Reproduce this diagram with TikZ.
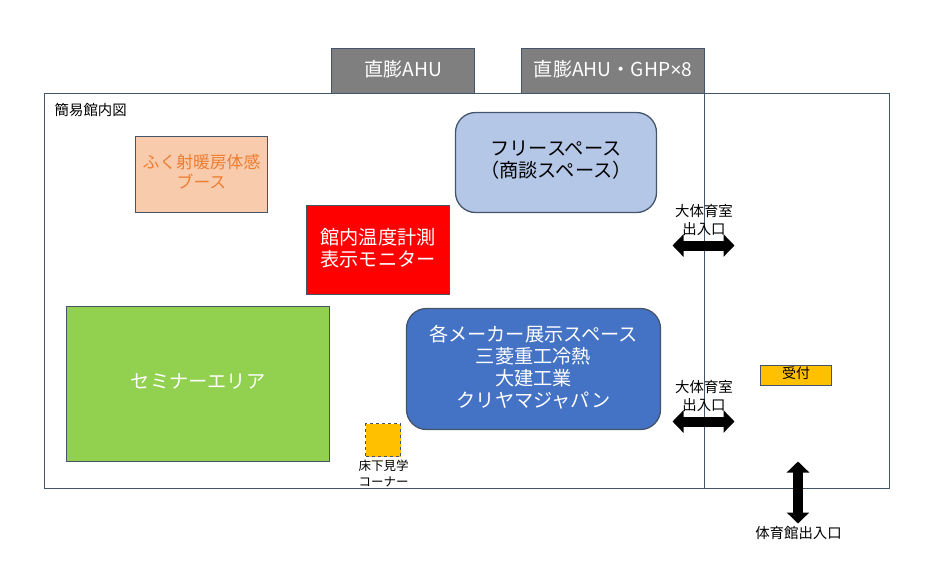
\documentclass[tikz,border=0pt]{standalone}
\usepackage{fontspec}
\setmainfont{Noto Sans CJK JP}
\newfontfamily\latinfont{Liberation Sans}
\usetikzlibrary{arrows.meta}

\definecolor{linecol}{HTML}{44546A}
\definecolor{ahucol}{HTML}{7F7F7F}
\definecolor{freecol}{HTML}{B4C7E7}
\definecolor{boothcol}{HTML}{F8CBAD}
\definecolor{boothtxt}{HTML}{ED7D31}
\definecolor{seminarcol}{HTML}{92D050}
\definecolor{makercol}{HTML}{4472C4}
\definecolor{goldcol}{HTML}{FFC000}

\begin{document}
\begin{tikzpicture}[
	x=1pt, y=-1pt,
	box/.style={rectangle, draw=linecol, line width=1.3pt, inner sep=0pt, align=center, font=\fontsize{19.2}{22}\selectfont, execute at end node={\rule[-6pt]{0pt}{0pt}}},
	roundbox/.style={box, rounded corners=20pt},
	small/.style={inner sep=0pt, align=center, font=\fontsize{14.4}{18}\selectfont},
	gate/.style={line width=10pt, {Triangle[length=11pt,width=22pt]}-{Triangle[length=11pt,width=22pt]}},
	]
	\useasboundingbox (0.5,0.5) rectangle (936.5,587.5);
	%Hall
	\node[box, minimum width=845pt, minimum height=395pt] (hall) at (467.5,291.5) {};
	\coordinate (partT) at (705,94);
	\coordinate (partB) at (705,489);
	\draw[linecol, line width=1.3pt] (partT) -- (partB);
	\node[small, anchor=west] (title) at (55,111) {簡易館内図};
	
	%Units
	\node[box, fill=ahucol, text=white, minimum width=143pt, minimum height=45pt] (ahu) at (403.5,71.5) {直膨AHU};
	\node[box, fill=ahucol, text=white, minimum width=183pt, minimum height=45pt] (ghp) at (613.5,71.5) {直膨AHU・GHP{\latinfont ×}8};
	
	%Areas
	\node[roundbox, fill=freecol, minimum width=201pt, minimum height=100pt] (free) at (556.5,163) {フリースペース\\（商談スペース）};
	\node[box, fill=boothcol, text=boothtxt, minimum width=132pt, minimum height=76pt, font=\fontsize{16.8}{20}\selectfont] (booth) at (202,175) {ふく射暖房体感\\ブース};
	\node[box, fill=red, text=white, minimum width=143pt, minimum height=89pt] (monitor) at (378.5,250.5) {館内温度計測\\表示モニター};
	\node[box, fill=seminarcol, text=white, minimum width=263pt, minimum height=155pt] (seminar) at (198.5,384.5) {セミナーエリア};
	\node[roundbox, fill=makercol, text=white, minimum width=254pt, minimum height=121pt] (maker) at (534,369.5) {各メーカー展示スペース\\三菱重工冷熱\\大建工業\\クリヤマジャパン};
	\node[box, fill=goldcol, dashed, minimum width=35pt, minimum height=33pt] (under) at (383.5,440.5) {};
	\node[small, font=\fontsize{12.5}{16}\selectfont] (underlbl) at (384,473.5) {床下見学\\コーナー};
	\node[box, fill=goldcol, minimum width=71pt, minimum height=20pt, font=\fontsize{14}{16}\selectfont] (desk) at (796.5,376) {受付};
	
	%Doors
	\coordinate (doorAl) at (673,246);
	\coordinate (doorAr) at (735,246);
	\coordinate (doorBl) at (673,422);
	\coordinate (doorBr) at (735,422);
	\coordinate (mainT) at (798.5,462);
	\coordinate (mainB) at (798.5,524);
	\draw[gate] (doorAl) -- (doorAr);
	\draw[gate] (doorBl) -- (doorBr);
	\draw[gate] (mainT) -- (mainB);
	\node[small] (doorAlbl) at (704.5,220.5) {大体育室\\出入口};
	\node[small] (doorBlbl) at (704.5,397) {大体育室\\出入口};
	\node[small] (mainlbl) at (799,534) {体育館出入口};
\end{tikzpicture}
\end{document}
